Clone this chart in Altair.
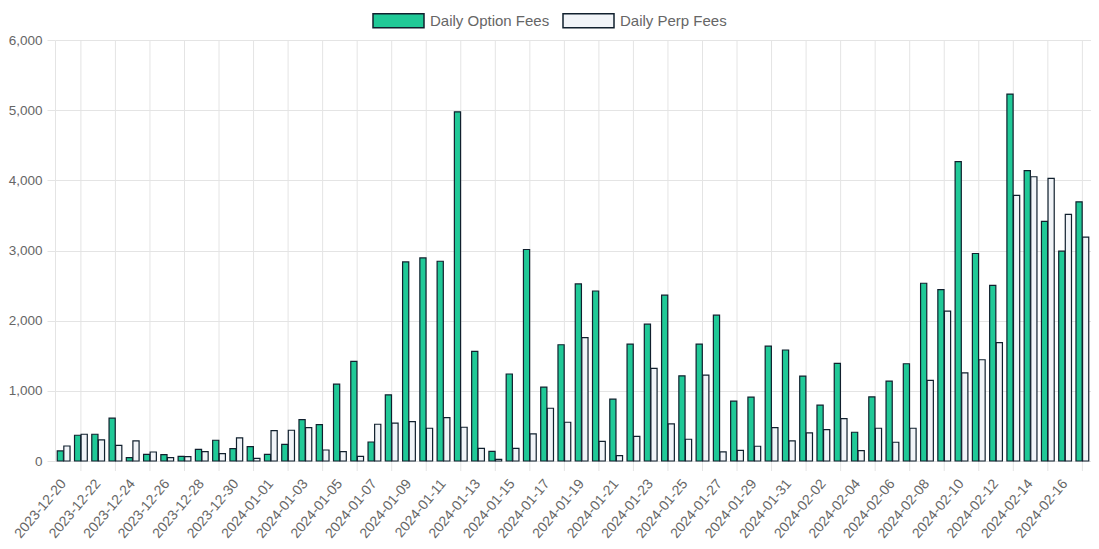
import altair as alt
import pandas as pd

dates = [
    "2023-12-20", "2023-12-21", "2023-12-22", "2023-12-23", "2023-12-24", "2023-12-25",
    "2023-12-26", "2023-12-27", "2023-12-28", "2023-12-29", "2023-12-30", "2023-12-31",
    "2024-01-01", "2024-01-02", "2024-01-03", "2024-01-04", "2024-01-05", "2024-01-06",
    "2024-01-07", "2024-01-08", "2024-01-09", "2024-01-10", "2024-01-11", "2024-01-12",
    "2024-01-13", "2024-01-14", "2024-01-15", "2024-01-16", "2024-01-17", "2024-01-18",
    "2024-01-19", "2024-01-20", "2024-01-21", "2024-01-22", "2024-01-23", "2024-01-24",
    "2024-01-25", "2024-01-26", "2024-01-27", "2024-01-28", "2024-01-29", "2024-01-30",
    "2024-01-31", "2024-02-01", "2024-02-02", "2024-02-03", "2024-02-04", "2024-02-05",
    "2024-02-06", "2024-02-07", "2024-02-08", "2024-02-09", "2024-02-10", "2024-02-11",
    "2024-02-12", "2024-02-13", "2024-02-14", "2024-02-15", "2024-02-16", "2024-02-17",
]

option_fees = [
    143, 367, 381, 610, 48, 95, 90, 67, 167, 296, 176, 205,
    95, 238, 590, 519, 1095, 1419, 271, 943, 2837, 2894, 2847, 4976,
    1561, 138, 1240, 3014, 1053, 1657, 2523, 2423, 881, 1665, 1950, 2364,
    1214, 1665, 2078, 853, 910, 1636, 1582, 1210, 795, 1390, 410, 914,
    1138, 1386, 2533, 2443, 4266, 2957, 2504, 5229, 4137, 3414, 2990, 3694,
]

perp_fees = [
    214, 381, 300, 224, 286, 128, 48, 62, 133, 105, 329, 38,
    433, 438, 476, 157, 133, 67, 524, 541, 560, 467, 619, 481,
    181, 24, 181, 386, 752, 552, 1757, 281, 76, 352, 1319, 529,
    310, 1224, 129, 152, 210, 476, 286, 400, 447, 604, 147, 467,
    267, 467, 1150, 2137, 1257, 1443, 1686, 3786, 4051, 4029, 3514, 3190,
]

series_names = ["Daily Option Fees", "Daily Perp Fees"]
series_colors = ["#20c997", "#f1f4f8"]
y_ticks = [0, 1000, 2000, 3000, 4000, 5000, 6000]

label_dates = dates[0::2]
grid_dates = dates[1::2]

rows = []
for d, o, p in zip(dates, option_fees, perp_fees):
    rows.append({"date": d, "series": series_names[0], "value": o})
    rows.append({"date": d, "series": series_names[1], "value": p})
df = pd.DataFrame(rows)
grid_df = pd.DataFrame({"date": grid_dates})

W = 1036
H = 421
FONT = "Liberation Sans"
GRID = "#e4e4e4"
TEXT = "#666666"

x_scale = alt.Scale(domain=dates, paddingInner=0.26, paddingOuter=0.13)
x_axis = alt.Axis(
    values=label_dates,
    title=None,
    ticks=False,
    grid=False,
    labelAngle=310,
    labelAlign="right",
    labelBaseline="middle",
    labelPadding=20,
    labelFont=FONT,
    labelFontSize=14,
    labelColor=TEXT,
    domainColor=GRID,
    labelOverlap=False,
)

vgrid = alt.Chart(grid_df).mark_rule(color=GRID, strokeWidth=1).encode(
    x=alt.X("date:O", scale=x_scale, axis=x_axis),
    y=alt.value(0),
    y2=alt.value(H + 10),
)

bars = alt.Chart(df).mark_bar(stroke="#11202e", strokeWidth=1.2).encode(
    x=alt.X("date:O", scale=x_scale, axis=x_axis),
    xOffset=alt.XOffset(
        "series:N",
        scale=alt.Scale(domain=series_names, paddingInner=0.06),
    ),
    y=alt.Y(
        "value:Q",
        scale=alt.Scale(domain=[0, 6000], nice=False),
        axis=alt.Axis(
            values=y_ticks,
            format=",.0f",
            title=None,
            tickSize=8,
            tickColor=GRID,
            gridColor=GRID,
            domainColor=GRID,
            labelPadding=5,
            labelFont=FONT,
            labelFontSize=13.5,
            labelColor=TEXT,
        ),
    ),
    color=alt.Color(
        "series:N",
        scale=alt.Scale(domain=series_names, range=series_colors),
        legend=alt.Legend(
            title=None,
            orient="none",
            direction="horizontal",
            legendX=317,
            legendY=-46,
            symbolType="M-1,-0.275H1V0.275H-1Z",
            symbolSize=2601,
            symbolStrokeColor="#11202e",
            symbolStrokeWidth=1.5,
            symbolOpacity=1,
            labelFont=FONT,
            labelFontSize=15,
            labelColor=TEXT,
            labelOffset=5,
            columnPadding=10,
            padding=0,
        ),
    ),
)

chart = (
    alt.layer(vgrid, bars)
    .properties(
        width=W,
        height=H,
        autosize=alt.AutoSizeParams(type="none"),
        padding={"left": 47, "top": 32, "right": 0, "bottom": 80},
    )
    .configure_view(stroke=None)
    .configure_axis(gridWidth=1)
)

chart.save("out.html", embed_options={"renderer": "svg", "actions": False})
